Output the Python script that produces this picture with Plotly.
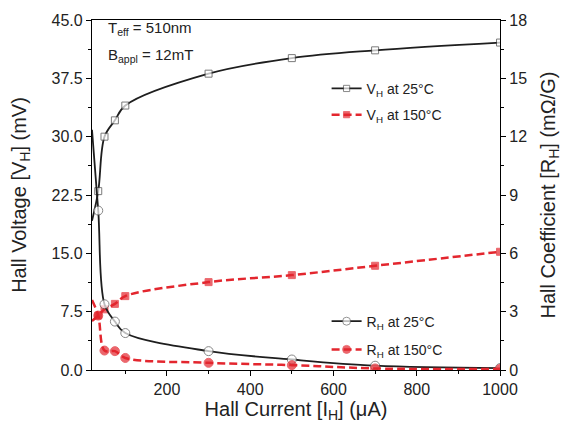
import plotly.graph_objects as go

# Data
current = [20, 35, 50, 75, 100, 300, 500, 700, 1000]          # Hall current (uA)
vh_25 = [19.2, 23.0, 30.0, 32.1, 34.0, 38.1, 40.1, 41.1, 42.1]  # mV
vh_150 = [6.3, 7.0, 7.8, 8.5, 9.5, 11.3, 12.2, 13.4, 15.2]      # mV
rh_25 = [12.35, 8.2, 3.38, 2.49, 1.9, 0.97, 0.54, 0.22, 0.1]    # mOhm/G
rh_150 = [3.6, 2.8, 1.0, 0.97, 0.62, 0.37, 0.25, 0.08, 0.05]    # mOhm/G

x_ticks = [200, 400, 600, 800, 1000]
y_ticks = [0, 7.5, 15, 22.5, 30, 37.5, 45]
y2_ticks = [0, 3, 6, 9, 12, 15, 18]

BLACK = "#1e1e1e"
RED = "#e3262e"
FONT = "Liberation Sans, Arial, sans-serif"

n = len(current)
sizes_sq = [0] + [7] * (n - 1)
sizes_ci = [0] + [9] * (n - 1)
lw = [0] + [1] * (n - 1)

fig = go.Figure()

fig.add_trace(go.Scatter(
    x=current, y=vh_25, name="V<sub>H</sub> at 25°C", mode="lines+markers",
    line=dict(color=BLACK, width=1.8, shape="spline", smoothing=1),
    marker=dict(symbol="square", size=sizes_sq, color="white",
                line=dict(color="#444", width=lw)),
    legend="legend", legendgroup="a", yaxis="y"))
fig.add_trace(go.Scatter(
    x=current, y=vh_150, name="V<sub>H</sub> at 150°C", mode="lines+markers",
    line=dict(color=RED, width=2.5, dash="8px,4px", shape="spline", smoothing=1),
    marker=dict(symbol="square", size=sizes_sq, color=RED,
                line=dict(color=RED, width=lw)),
    legend="legend", legendgroup="b", yaxis="y"))
fig.add_trace(go.Scatter(
    x=current, y=rh_25, name="R<sub>H</sub> at 25°C", mode="lines+markers",
    line=dict(color=BLACK, width=1.8, shape="spline", smoothing=1),
    marker=dict(symbol="circle", size=sizes_ci, color="white",
                line=dict(color="#555", width=lw)),
    legend="legend2", legendgroup="c", yaxis="y2"))
fig.add_trace(go.Scatter(
    x=current, y=rh_150, name="R<sub>H</sub> at 150°C", mode="lines+markers",
    line=dict(color=RED, width=2.5, dash="8px,4px", shape="spline", smoothing=1),
    marker=dict(symbol="circle", size=sizes_ci, color=RED,
                line=dict(color=RED, width=lw)),
    legend="legend2", legendgroup="d", yaxis="y2"))

axis_common = dict(showgrid=False, zeroline=False, showline=True, linecolor="black",
                   linewidth=1.2, ticks="outside", ticklen=5, tickwidth=1,
                   tickcolor="black", tickfont=dict(family=FONT, size=16, color="#222"))

fig.update_layout(
    width=568, height=432,
    margin=dict(l=92, r=68, t=13, b=62),
    paper_bgcolor="white", plot_bgcolor="white",
    font=dict(family=FONT, color="#222"),
    xaxis=dict(range=[20, 1000], tickvals=x_ticks, mirror=True,
               minor=dict(ticks="outside", ticklen=3, dtick=100, tick0=0, tickcolor="black"),
               title=dict(text="Hall Current [I<sub>H</sub>] (μA)",
                          font=dict(family=FONT, size=20, color="#222"), standoff=0),
               **axis_common),
    yaxis=dict(range=[0, 45], tickvals=y_ticks, tickformat=".1f",
               minor=dict(ticks="outside", ticklen=3, dtick=3.75, tick0=0, tickcolor="black"),
               title=dict(text="Hall Voltage [V<sub>H</sub>] (mV)",
                          font=dict(family=FONT, size=20, color="#222"), standoff=19),
               **axis_common),
    yaxis2=dict(range=[0, 18], tickvals=y2_ticks, overlaying="y", side="right",
                minor=dict(ticks="outside", ticklen=3, dtick=1.5, tick0=0, tickcolor="black"),
                title=dict(text="Hall Coefficient [R<sub>H</sub>] (mΩ/G)",
                           font=dict(family=FONT, size=20, color="#222"), standoff=14),
                **axis_common),
    legend=dict(x=0.575, y=0.849, xanchor="left", yanchor="top",
                bgcolor="rgba(0,0,0,0)", font=dict(family=FONT, size=14, color="#222"),
                tracegroupgap=5, traceorder="grouped"),
    legend2=dict(x=0.575, y=0.184, xanchor="left", yanchor="top",
                 bgcolor="rgba(0,0,0,0)", font=dict(family=FONT, size=14, color="#222"),
                 tracegroupgap=7, traceorder="grouped"),
    annotations=[
        dict(text="T<sub>eff</sub> = 510nm", xref="paper", yref="paper",
             x=0.035, y=1.01, xanchor="left", yanchor="top", showarrow=False,
             font=dict(family=FONT, size=15, color="#222")),
        dict(text="B<sub>appl</sub> = 12mT", xref="paper", yref="paper",
             x=0.035, y=0.93, xanchor="left", yanchor="top", showarrow=False,
             font=dict(family=FONT, size=15, color="#222")),
    ],
)

fig.write_html("out.html")
